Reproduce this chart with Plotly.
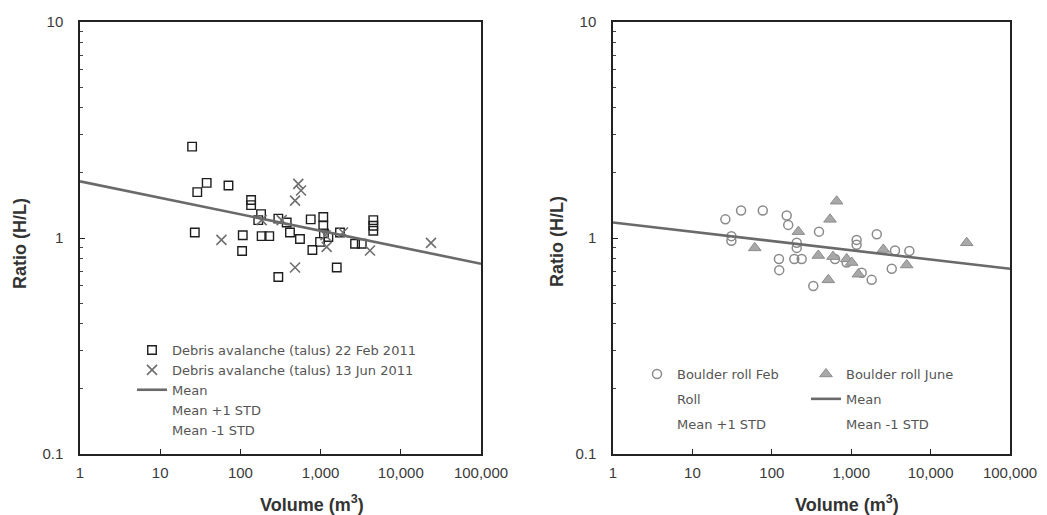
import plotly.graph_objects as go

# ---- Left panel: debris avalanche (talus) ----
feb_vol = [25, 38, 29, 71, 136, 136, 27, 107, 105, 184, 229, 181, 167, 297, 378, 415, 553,
           753, 1080, 1080, 1100, 790, 297, 1590, 1745, 1250, 985, 2690, 3260, 4540, 4540, 4540]
feb_ratio = [2.65, 1.80, 1.63, 1.75, 1.50, 1.42, 1.06, 1.03, 0.87, 1.02, 1.02, 1.29, 1.21, 1.23,
             1.18, 1.06, 0.99, 1.22, 1.25, 1.14, 1.05, 0.88, 0.66, 0.73, 1.06, 1.01, 0.96, 0.94,
             0.94, 1.21, 1.08, 1.14]
jun_vol = [58, 527, 570, 480, 480, 184, 327, 1190, 4130, 23800, 1900, 1150]
jun_ratio = [0.98, 1.78, 1.66, 1.49, 0.73, 1.21, 1.21, 0.91, 0.875, 0.95, 1.06, 1.03]
mean_left_vol = [1, 100000]
mean_left_ratio = [1.83, 0.76]

# ---- Right panel: boulder roll ----
rollfeb_vol = [26, 41, 77, 154, 161, 393, 31, 31, 123, 192, 238, 124, 206, 206, 333, 625,
               1170, 1170, 2100, 3240, 3560, 5400, 1810, 877, 1355]
rollfeb_ratio = [1.22, 1.34, 1.34, 1.27, 1.15, 1.07, 0.97, 1.02, 0.80, 0.80, 0.80, 0.71, 0.95,
                 0.90, 0.60, 0.80, 0.98, 0.93, 1.04, 0.72, 0.875, 0.87, 0.64, 0.77, 0.69]
rolljun_vol = [656, 541, 216, 61, 385, 515, 877, 1015, 1230, 2540, 5000, 28500, 590]
rolljun_ratio = [1.48, 1.22, 1.07, 0.90, 0.83, 0.64, 0.80, 0.77, 0.68, 0.885, 0.75, 0.95, 0.82]
mean_right_vol = [1, 100000]
mean_right_ratio = [1.18, 0.72]

x_tickvals = [1, 10, 100, 1000, 10000, 100000]
x_ticktext = ["1", "10", "100", "1,000", "10,000", "100,000"]
y_tickvals = [0.1, 1, 10]
y_ticktext = ["0.1", "1", "10"]

FONT = "Liberation Sans, Arial, sans-serif"
LEG_FONT = "DejaVu Sans, sans-serif"
TXT = "#3a3a3a"
MEAN_COLOR = "#6a6a6a"
HIDDEN = dict(color="rgba(255,255,255,0)", width=1)

fig = go.Figure()

# left panel traces
fig.add_trace(go.Scatter(x=feb_vol, y=feb_ratio, mode="markers",
                         name="Debris avalanche (talus) 22 Feb 2011",
                         marker=dict(symbol="square-open", size=8.5, color="#1e1e1e",
                                     line=dict(width=1.4)),
                         xaxis="x", yaxis="y", legend="legend"))
fig.add_trace(go.Scatter(x=jun_vol, y=jun_ratio, mode="markers",
                         name="Debris avalanche (talus) 13 Jun 2011",
                         marker=dict(symbol="x-thin-open", size=10, color="#6f6f6f",
                                     line=dict(width=1.6)),
                         xaxis="x", yaxis="y", legend="legend"))
fig.add_trace(go.Scatter(x=mean_left_vol, y=mean_left_ratio, mode="lines", name="Mean",
                         line=dict(color=MEAN_COLOR, width=2.6),
                         xaxis="x", yaxis="y", legend="legend"))
for nm in ["Mean +1 STD", "Mean -1 STD"]:
    fig.add_trace(go.Scatter(x=[None], y=[None], mode="lines", name=nm, line=HIDDEN,
                             xaxis="x", yaxis="y", legend="legend"))

# right panel traces, legend split into two columns
fig.add_trace(go.Scatter(x=rollfeb_vol, y=rollfeb_ratio, mode="markers", name="Boulder roll Feb",
                         marker=dict(symbol="circle-open", size=9, color="#8a8a8a",
                                     line=dict(width=1.5)),
                         xaxis="x2", yaxis="y2", legend="legend2", legendgroup="a"))
fig.add_trace(go.Scatter(x=[None], y=[None], mode="lines", name="Roll", line=HIDDEN,
                         xaxis="x2", yaxis="y2", legend="legend2", legendgroup="b"))
fig.add_trace(go.Scatter(x=[None], y=[None], mode="lines", name="Mean +1 STD", line=HIDDEN,
                         xaxis="x2", yaxis="y2", legend="legend2", legendgroup="c"))
fig.add_trace(go.Scatter(x=rolljun_vol, y=rolljun_ratio, mode="markers", name="Boulder roll June",
                         marker=dict(symbol="triangle-up", size=11, color="#a8a8a8",
                                     line=dict(width=1, color="#8c8c8c")),
                         xaxis="x2", yaxis="y2", legend="legend3", legendgroup="d"))
fig.add_trace(go.Scatter(x=mean_right_vol, y=mean_right_ratio, mode="lines", name="Mean",
                         line=dict(color=MEAN_COLOR, width=2.6),
                         xaxis="x2", yaxis="y2", legend="legend3", legendgroup="e"))
fig.add_trace(go.Scatter(x=[None], y=[None], mode="lines", name="Mean -1 STD", line=HIDDEN,
                         xaxis="x2", yaxis="y2", legend="legend3", legendgroup="f"))

W, H = 1047, 515
y_dom = [1 - 454 / H, 1 - 22 / H]

axis_common = dict(type="log", showgrid=False, zeroline=False, showline=True, mirror=True,
                   linecolor="#222", linewidth=1.5, ticks="inside", ticklen=5,
                   tickcolor="#222", automargin=False,
                   tickfont=dict(family=FONT, size=15, color=TXT))
x_common = dict(axis_common, range=[0, 5], tickvals=x_tickvals, ticktext=x_ticktext,
                ticklabelstandoff=4)
y_common = dict(axis_common, range=[-1, 1], tickvals=y_tickvals, ticktext=y_ticktext,
                ticklabelstandoff=12,
                minor=dict(ticks="inside", ticklen=3, tickcolor="#444",
                           tickvals=[v * m for m in [0.1, 1] for v in range(2, 10)]))

legend_common = dict(font=dict(family=LEG_FONT, size=13, color="#555555"),
                     bgcolor="rgba(0,0,0,0)", borderwidth=0, xanchor="left", yanchor="top",
                     itemclick=False, itemdoubleclick=False)

TITLE_FONT = dict(size=18, family=FONT, color="#333")

fig.update_layout(
    width=W, height=H,
    margin=dict(l=0, r=0, t=0, b=0, autoexpand=False),
    paper_bgcolor="white", plot_bgcolor="white",
    font=dict(family=FONT, color=TXT),
    xaxis=dict(x_common, domain=[80 / W, 481 / W], anchor="y"),
    yaxis=dict(y_common, domain=y_dom, anchor="x"),
    xaxis2=dict(x_common, domain=[613 / W, 1010 / W], anchor="y2"),
    yaxis2=dict(y_common, domain=y_dom, anchor="x2"),
    legend=dict(legend_common, x=132 / W, y=1 - 335 / H),
    legend2=dict(legend_common, x=637 / W, y=1 - 359 / H, tracegroupgap=5,
                 traceorder="grouped"),
    legend3=dict(legend_common, x=806 / W, y=1 - 359 / H, tracegroupgap=5,
                 traceorder="grouped"),
    annotations=[
        dict(text="<b>Ratio (H/L)</b>", x=20 / W, y=1 - 244 / H, xref="paper", yref="paper",
             xanchor="center", yanchor="middle", textangle=-90, showarrow=False,
             font=TITLE_FONT),
        dict(text="<b>Ratio (H/L)</b>", x=557 / W, y=1 - 242 / H, xref="paper", yref="paper",
             xanchor="center", yanchor="middle", textangle=-90, showarrow=False,
             font=TITLE_FONT),
        dict(text="<b>Volume (m<sup>3</sup>)</b>", x=312 / W, y=1 - 503 / H, xref="paper",
             yref="paper", xanchor="center", yanchor="middle", showarrow=False,
             font=TITLE_FONT),
        dict(text="<b>Volume (m<sup>3</sup>)</b>", x=847 / W, y=1 - 503 / H, xref="paper",
             yref="paper", xanchor="center", yanchor="middle", showarrow=False,
             font=TITLE_FONT),
    ],
    showlegend=True,
)

fig.write_html("out.html")
